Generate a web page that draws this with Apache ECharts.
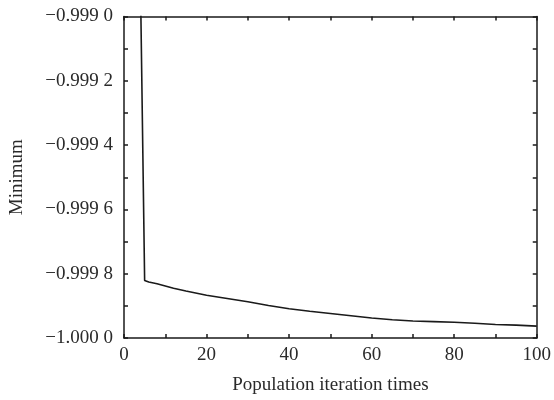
<!DOCTYPE html>
<html>
<head>
<meta charset="utf-8">
<script src="https://cdn.jsdelivr.net/npm/echarts@6/dist/echarts.min.js"></script>
<style>
html,body{margin:0;padding:0;background:#ffffff;}
#chart{width:554px;height:400px;}
</style>
</head>
<body>
<div id="chart"></div>
<script>
// Data
const iterations = [1, 2, 3, 4, 5, 6, 8, 10, 12, 15, 20, 25, 30, 35, 40, 45, 50, 55, 60, 65, 70, 75, 80, 85, 90, 95, 100];
const minimumValues = [-0.99750, -0.99820, -0.99860, -0.99891, -0.999821, -0.999826, -0.999831, -0.999838, -0.999845, -0.999854,
  -0.999867, -0.999877, -0.999887, -0.999899, -0.999909, -0.999917, -0.999924, -0.999931, -0.999938, -0.999943,
  -0.999947, -0.999949, -0.999951, -0.999954, -0.999958, -0.999960, -0.999963];
const xTickValues = [0, 20, 40, 60, 80, 100];
const yTickLabels = ['−1.000 0', '−0.999 8', '−0.999 6', '−0.999 4', '−0.999 2', '−0.999 0'];
const xAxisTitle = 'Population iteration times';
const yAxisTitle = 'Minimum';

const FONT = '"Liberation Serif", "Times New Roman", serif';
const TXT = '#2a2a2a';
const AX = '#1a1a1a';

const seriesData = iterations.map((x, i) => [x, minimumValues[i]]);

function yLabel(v) {
  const idx = Math.round((v + 1) / 0.0002);
  return yTickLabels[idx] !== undefined ? yTickLabels[idx] : '';
}

const axisLineCommon = { show: true, onZero: false, lineStyle: { color: AX, width: 1.5 } };
const tickCommon = { show: true, inside: true, length: 4, lineStyle: { color: AX, width: 1.5 } };
const minorCommon = { show: true, splitNumber: 2, length: 4, lineStyle: { color: AX, width: 1.5 } };

const chart = echarts.init(document.getElementById('chart'), null, { renderer: 'canvas' });
chart.setOption({
  backgroundColor: '#ffffff',
  animation: false,
  grid: { left: 121.5, right: 16.5, top: 16.5, bottom: 53.5, containLabel: false },
  xAxis: [
    {
      type: 'value', position: 'bottom', min: 0, max: 100, interval: 20,
      name: xAxisTitle, nameLocation: 'middle', nameGap: 38,
      nameTextStyle: { fontFamily: FONT, fontSize: 19, color: TXT },
      axisLine: axisLineCommon, axisTick: tickCommon, minorTick: minorCommon,
      splitLine: { show: false },
      axisLabel: { fontFamily: FONT, fontSize: 19, color: TXT, margin: 8,
        formatter: v => (xTickValues.indexOf(Math.round(v)) >= 0 ? String(Math.round(v)) : '') }
    },
    {
      type: 'value', position: 'top', min: 0, max: 100, interval: 20,
      axisLine: axisLineCommon, axisTick: tickCommon, minorTick: minorCommon,
      splitLine: { show: false }, axisLabel: { show: false }
    }
  ],
  yAxis: [
    {
      type: 'value', position: 'left', min: -1.0, max: -0.999, interval: 0.0002,
      name: yAxisTitle, nameLocation: 'middle', nameGap: 97, nameRotate: 90,
      nameTextStyle: { fontFamily: FONT, fontSize: 19, color: TXT },
      axisLine: axisLineCommon, axisTick: tickCommon, minorTick: minorCommon,
      splitLine: { show: false },
      axisLabel: { fontFamily: FONT, fontSize: 19, color: TXT, margin: 11, formatter: yLabel }
    },
    {
      type: 'value', position: 'right', min: -1.0, max: -0.999, interval: 0.0002,
      axisLine: axisLineCommon, axisTick: tickCommon, minorTick: minorCommon,
      splitLine: { show: false }, axisLabel: { show: false }
    }
  ],
  series: [
    {
      type: 'line', xAxisIndex: 0, yAxisIndex: 0,
      data: seriesData, showSymbol: false, symbol: 'none', clip: true,
      lineStyle: { color: '#1a1a1a', width: 1.6 }
    }
  ]
});
</script>
</body>
</html>
